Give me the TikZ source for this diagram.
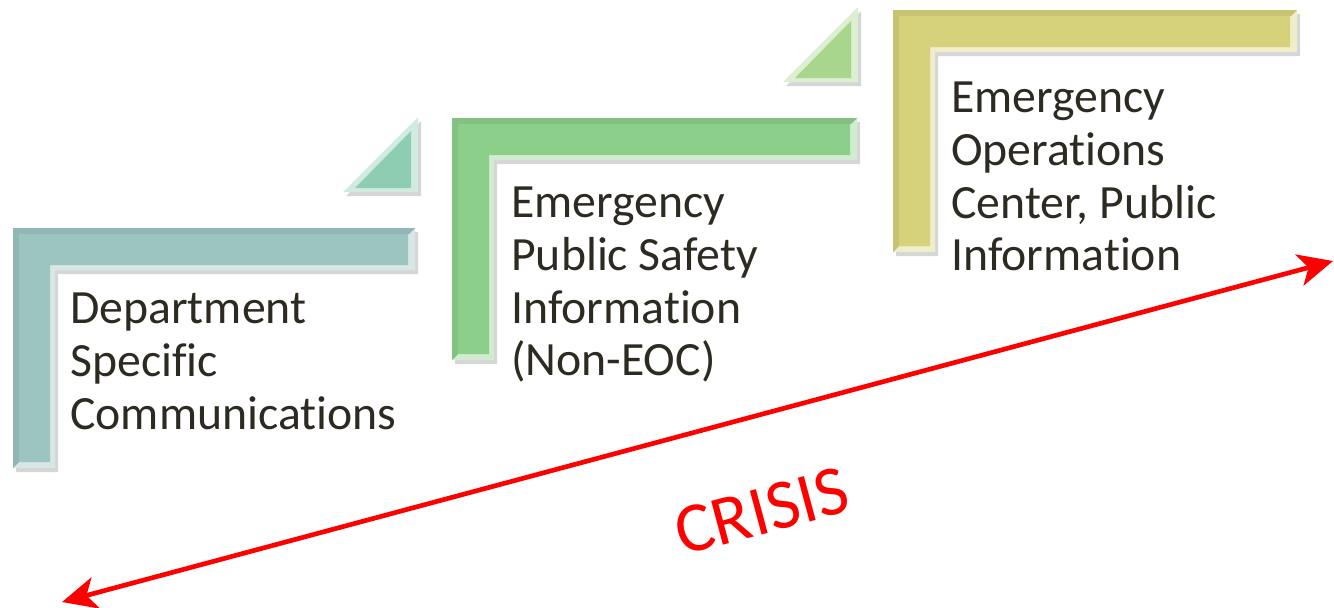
\documentclass[tikz,border=0pt]{standalone}
\usepackage{fontspec}
\setmainfont{Carlito}[Ligatures={NoCommon,NoDiscretionary,NoRare}]
\usetikzlibrary{arrows.meta}
\definecolor{tealbar}{HTML}{9CC4C1}
\definecolor{tealtri}{HTML}{8ECDB2}
\definecolor{greenbar}{HTML}{8CCF8B}
\definecolor{greentri}{HTML}{A8D68D}
\definecolor{yellowbar}{HTML}{D6D27B}
\definecolor{txtcol}{HTML}{2D2A22}
\newcommand{\bevelL}[7]{%
  \fill[black,opacity=0.16] (#1+3,#2+4) -- (#3+3,#2+4) -- (#3+3,#4+4) -- (#5+3,#4+4) -- (#5+3,#6+4) -- (#1+3,#6+4) -- cycle;
  \fill[#7!40!white] (#1,#2) -- (#3,#2) -- (#3,#4) -- (#5,#4) -- (#5,#6) -- (#1,#6) -- cycle;
  \fill[#7!93!black] (#1,#2) -- (#3,#2) -- (#3-6,#2+6) -- (#1+6,#2+6) -- (#1+6,#6-6) -- (#1,#6) -- cycle;
  \fill[#7] (#1+6,#2+6) -- (#3-7,#2+6) -- (#3-7,#4-5) -- (#5-5,#4-5) -- (#5-5,#6-6) -- (#1+6,#6-6) -- cycle;
}
\newcommand{\bevelT}[4]{%
  \fill[black,opacity=0.16] (#1+3,#2+4) -- (#1+#3+3,#2+4) -- (#1+#3+3,#2-#3+4) -- cycle;
  \fill[#4!40!white] (#1,#2) -- (#1+#3,#2) -- (#1+#3,#2-#3) -- cycle;
  \fill[#4] (#1+12,#2-4) -- (#1+#3-7,#2-4) -- (#1+#3-7,#2-#3+14) -- cycle;
}
\tikzset{
  steplabel/.style={anchor=north west, inner sep=0pt, align=left, text=txtcol,
    font=\fontsize{35.8}{39.5}\selectfont},
  crisisarrow/.style={draw=red, line width=3.5pt,
    {Stealth[length=26pt,width=24pt,inset=7pt]}-{Stealth[length=26pt,width=24pt,inset=7pt]}},
  crisislabel/.style={text=red, inner sep=0pt, font=\fontsize{53}{53}\selectfont}
}
\begin{document}
\begin{tikzpicture}[x=0.75pt,y=-0.75pt]
\useasboundingbox (0,0) rectangle (1334,607);
% L shapes
\bevelL{13}{228}{415}{270}{55}{468}{tealbar}
\bevelL{452}{118}{857}{160}{494}{360}{greenbar}
\bevelL{893}{10}{1297}{52}{935}{252}{yellowbar}
% triangles
\bevelT{343}{192}{75}{tealtri}
\bevelT{783}{82}{75}{greentri}
% labels
\node[steplabel] (dept) at (70,293) {Department\\Specific\\Communications};
\node[steplabel] (epsi) at (511,187) {Emergency\\Public Safety\\Information\\(Non-EOC)};
\node[steplabel] (eoc) at (951,82) {Emergency\\Operations\\Center, Public\\Information};
% crisis arrow
\coordinate (lowend) at (62,602);
\coordinate (highend) at (1333,261);
\draw[crisisarrow] (lowend) -- (highend);
\node[crisislabel, rotate=15] (crisis) at (762,511) {CRISIS};
\end{tikzpicture}
\end{document}
